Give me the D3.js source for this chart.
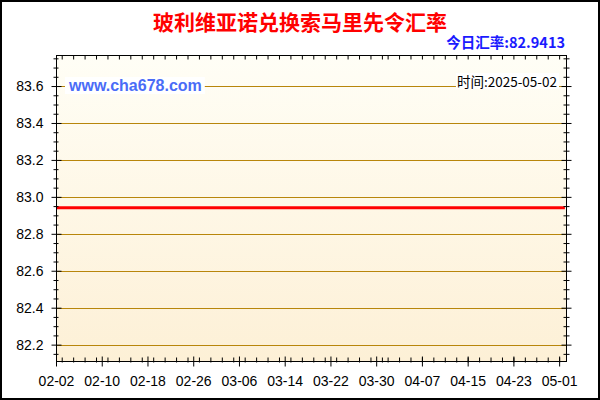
<!DOCTYPE html>
<html>
<head>
<meta charset="utf-8">
<script src="https://cdn.jsdelivr.net/npm/d3@7"></script>
<style>
  body { margin: 0; background: #fff; }
  svg { display: block; }
</style>
</head>
<body>
<div id="chart"></div>
<script>
// data
var dates = ["2025-02-02", "2025-02-10", "2025-02-18", "2025-02-26", "2025-03-06", "2025-03-14",
    "2025-03-22", "2025-03-30", "2025-04-07", "2025-04-15", "2025-04-23", "2025-05-01", "2025-05-02"];
var rates = [82.9413, 82.9413, 82.9413, 82.9413, 82.9413, 82.9413,
    82.9413, 82.9413, 82.9413, 82.9413, 82.9413, 82.9413, 82.9413];
var xTickLabels = ["02-02", "02-10", "02-18", "02-26", "03-06", "03-14", "03-22", "03-30", "04-07", "04-15", "04-23", "05-01"];
var yTickValues = [82.2, 82.4, 82.6, 82.8, 83.0, 83.2, 83.4, 83.6];
var titleText = "玻利维亚诺兑换索马里先令汇率";
var todayText = "今日汇率:82.9413";
var siteText = "www.cha678.com";
var timeText = "时间:2025-05-02";

var width = 600, height = 400;
var pLeft = 56, pRight = 567, pTop = 55, pBottom = 362;
var parse = d3.timeParse("%Y-%m-%d");

var svg = d3.select("#chart")
    .append("svg")
    .attr("width", width)
    .attr("height", height);

// outer frame
svg.append("rect")
    .attr("x", 1).attr("y", 1)
    .attr("width", width - 2).attr("height", height - 2)
    .attr("fill", "#fff")
    .attr("stroke", "#000")
    .attr("stroke-width", 2);

var x = d3.scaleTime()
    .domain([parse("2025-02-02"), new Date(2025, 4, 2, 9)])
    .range([pLeft, pRight]);

var y = d3.scaleLinear()
    .domain([82.106, 83.768])
    .range([pBottom, pTop]);

// background gradient
var grad = svg.append("defs").append("linearGradient")
    .attr("id", "bg")
    .attr("x1", 0).attr("y1", 0).attr("x2", 0).attr("y2", 1);
grad.append("stop").attr("offset", "0%").attr("stop-color", "#fffef6");
grad.append("stop").attr("offset", "100%").attr("stop-color", "#fdf0d6");

svg.append("rect")
    .attr("x", pLeft).attr("y", pTop)
    .attr("width", pRight - pLeft).attr("height", pBottom - pTop)
    .attr("fill", "url(#bg)");

// grid lines
svg.selectAll(".grid")
    .data(yTickValues)
    .enter()
    .append("line")
    .attr("class", "grid")
    .attr("x1", pLeft).attr("x2", pRight)
    .attr("y1", function(d) { return Math.round(y(d)) + 0.5; })
    .attr("y2", function(d) { return Math.round(y(d)) + 0.5; })
    .attr("stroke", "#b8860b")
    .attr("stroke-width", 1);

// labels inside plot with white background
var site = svg.append("text")
    .attr("x", 69).attr("y", 91)
    .attr("font-family", "Liberation Sans, Arial, sans-serif")
    .attr("font-size", "16px")
    .attr("font-weight", "bold")
    .attr("fill", "#4a6cf7")
    .text(siteText);
var sb = site.node().getBBox();
svg.insert("rect", function() { return site.node(); })
    .attr("x", sb.x - 3).attr("y", sb.y)
    .attr("width", sb.width + 6).attr("height", sb.height)
    .attr("fill", "#fff");

var tm = svg.append("text")
    .attr("x", 557).attr("y", 87)
    .attr("text-anchor", "end")
    .attr("font-family", "Noto Sans CJK SC, sans-serif")
    .attr("font-size", "13.5px")
    .attr("fill", "#000")
    .text(timeText);
var tb = tm.node().getBBox();
svg.insert("rect", function() { return tm.node(); })
    .attr("x", tb.x - 1).attr("y", tb.y + 2)
    .attr("width", tb.width + 3).attr("height", tb.height - 4)
    .attr("fill", "#fff");

// rate line
var line = d3.line()
    .x(function(d, i) { return x(parse(dates[i])); })
    .y(function(d) { return y(d); });

svg.append("path")
    .datum(rates)
    .attr("d", line)
    .attr("fill", "none")
    .attr("stroke", "#ff0000")
    .attr("stroke-width", 3);

// plot border
svg.append("rect")
    .attr("x", pLeft + 0.5).attr("y", pTop + 0.5)
    .attr("width", pRight - pLeft - 1).attr("height", pBottom - pTop - 1)
    .attr("fill", "none")
    .attr("stroke", "#000")
    .attr("stroke-width", 1);

var fontAxis = "Liberation Sans, Arial, sans-serif";

// y axis major
var yAxis = d3.axisLeft(y).tickValues(yTickValues).tickSize(5).tickPadding(8).tickFormat(d3.format(".1f"));
var gy = svg.append("g").attr("transform", "translate(" + (pLeft + 0.5) + ",0)").call(yAxis);
gy.select(".domain").remove();
gy.selectAll("line").attr("x1", 5);
gy.selectAll("text").attr("font-family", fontAxis).attr("font-size", "14px").attr("fill", "#000");

// y minor ticks (left + right)
var yMinor = d3.range(82.15, 83.76, 0.05).filter(function(v) {
    return yTickValues.every(function(t) { return Math.abs(t - v) > 0.01; });
});
var yAxisMinor = d3.axisLeft(y).tickValues(yMinor).tickSize(3).tickFormat("");
var gym = svg.append("g").attr("transform", "translate(" + (pLeft + 0.5) + ",0)").call(yAxisMinor);
gym.select(".domain").remove();
gym.selectAll("line").attr("x1", 2);

var gyr = svg.append("g").attr("transform", "translate(" + (pRight - 0.5) + ",0)")
    .call(d3.axisRight(y).tickValues(yTickValues).tickSize(5).tickFormat(""));
gyr.select(".domain").remove();
gyr.selectAll("line").attr("x1", -5);
var gyrm = svg.append("g").attr("transform", "translate(" + (pRight - 0.5) + ",0)")
    .call(d3.axisRight(y).tickValues(yMinor).tickSize(3).tickFormat(""));
gyrm.select(".domain").remove();
gyrm.selectAll("line").attr("x1", -3);

// x axis major
var xMajor = xTickLabels.map(function(s) { return parse("2025-" + s); });
var xAxis = d3.axisBottom(x).tickValues(xMajor).tickSize(5).tickPadding(10).tickFormat(d3.timeFormat("%m-%d"));
var gx = svg.append("g").attr("transform", "translate(0," + (pBottom - 0.5) + ")").call(xAxis);
gx.select(".domain").remove();
gx.selectAll("line").attr("y1", -5);
gx.selectAll("text").attr("font-family", fontAxis).attr("font-size", "14px").attr("fill", "#000");

// x minor ticks every 2 days
var xMinor = d3.timeDay.every(2).range(parse("2025-02-02"), parse("2025-05-02"));
var gxm = svg.append("g").attr("transform", "translate(0," + (pBottom - 0.5) + ")")
    .call(d3.axisBottom(x).tickValues(xMinor).tickSize(0).tickFormat(""));
gxm.select(".domain").remove();
gxm.selectAll("line").attr("y1", -4).attr("y2", 1);

var gxt = svg.append("g").attr("transform", "translate(0," + (pTop + 0.5) + ")")
    .call(d3.axisBottom(x).tickValues(xMinor).tickSize(4).tickFormat(""));
gxt.select(".domain").remove();

svg.selectAll(".tick line").attr("stroke", "#000");

// titles
svg.append("text")
    .attr("x", 300).attr("y", 30)
    .attr("text-anchor", "middle")
    .attr("font-family", "Noto Sans CJK SC, sans-serif")
    .attr("font-size", "21px")
    .attr("font-weight", "bold")
    .attr("fill", "#ff0000")
    .text(titleText);

svg.append("text")
    .attr("x", 565).attr("y", 48)
    .attr("text-anchor", "end")
    .attr("font-family", "Noto Sans CJK SC, sans-serif")
    .attr("font-size", "14.5px")
    .attr("font-weight", "bold")
    .attr("fill", "#1a1aff")
    .text(todayText);
</script>
</body>
</html>
